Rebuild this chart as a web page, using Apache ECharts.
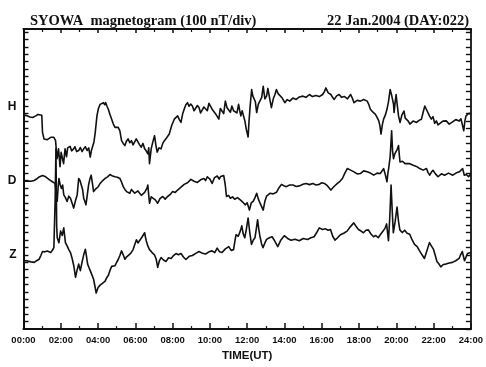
<!DOCTYPE html>
<html>
<head>
<meta charset="utf-8">
<script src="https://cdn.jsdelivr.net/npm/echarts@6/dist/echarts.min.js"></script>
<style>
  html, body { margin: 0; padding: 0; background: #fff; }
  #chart { width: 486px; height: 367px; }
</style>
</head>
<body>
<div id="chart"></div>
<script>
// Syowa station magnetogram, 22 Jan 2004.
// Each trace: [time (hours UT), deviation from the trace's own baseline (nT)].

const hSamples = [[0.00,-134],[0.12,-120],[0.22,-130],[0.35,-145],[0.49,-152],[0.58,-128],[0.66,-130],[0.78,-110],[0.88,-98],[0.98,-121],[1.02,-351],[1.10,-440],[1.18,-420],[1.28,-450],[1.37,-425],[1.46,-418],[1.55,-440],[1.63,-418],[1.72,-463],[1.80,-706],[1.88,-573],[1.96,-813],[2.02,-620],[2.08,-596],[2.15,-773],[2.23,-573],[2.31,-680],[2.37,-560],[2.43,-573],[2.50,-540],[2.58,-600],[2.69,-573],[2.76,-545],[2.85,-610],[2.96,-596],[3.05,-555],[3.14,-610],[3.23,-573],[3.32,-545],[3.41,-596],[3.50,-560],[3.58,-684],[3.64,-600],[3.70,-596],[3.78,-480],[3.85,-351],[3.94,-130],[4.02,-30],[4.11,25],[4.20,10],[4.29,48],[4.36,20],[4.41,48],[4.48,0],[4.55,-41],[4.64,-110],[4.73,-174],[4.82,-240],[4.91,-285],[5.00,-260],[5.08,-285],[5.17,-330],[5.26,-463],[5.35,-500],[5.44,-529],[5.52,-470],[5.61,-440],[5.70,-490],[5.79,-463],[5.88,-520],[5.97,-507],[6.05,-440],[6.14,-463],[6.23,-520],[6.32,-551],[6.41,-500],[6.50,-573],[6.58,-600],[6.67,-640],[6.72,-560],[6.76,-773],[6.85,-573],[6.94,-480],[7.03,-396],[7.10,-520],[7.17,-617],[7.27,-560],[7.38,-573],[7.47,-500],[7.56,-463],[7.69,-420],[7.82,-374],[7.95,-260],[8.09,-174],[8.18,-150],[8.27,-130],[8.36,-180],[8.45,-218],[8.54,-100],[8.62,-41],[8.71,20],[8.80,48],[8.88,0],[8.97,30],[9.06,3],[9.15,-60],[9.24,-85],[9.33,10],[9.42,-19],[9.50,-90],[9.59,-108],[9.68,-10],[9.77,3],[9.86,-60],[9.95,40],[10.04,48],[10.12,-40],[10.21,-19],[10.30,-100],[10.39,-85],[10.48,-174],[10.56,-30],[10.65,-41],[10.74,-100],[10.83,69],[10.92,-20],[11.01,-41],[11.10,-80],[11.18,3],[11.27,-60],[11.36,-41],[11.45,-90],[11.54,25],[11.60,-60],[11.66,-130],[11.73,-60],[11.80,-85],[11.88,-200],[11.95,-307],[12.05,-414],[12.10,-200],[12.16,3],[12.24,225],[12.30,140],[12.37,158],[12.44,60],[12.51,-85],[12.60,30],[12.69,48],[12.78,120],[12.86,269],[12.95,100],[13.04,136],[13.11,240],[13.18,225],[13.24,60],[13.30,-19],[13.40,100],[13.49,158],[13.57,225],[13.66,170],[13.75,181],[13.88,110],[14.02,48],[14.15,90],[14.28,69],[14.45,110],[14.63,92],[14.80,125],[14.99,136],[15.15,120],[15.34,158],[15.50,130],[15.69,145],[15.87,130],[16.05,158],[16.15,200],[16.22,247],[16.35,180],[16.49,158],[16.58,120],[16.67,92],[16.80,140],[16.93,158],[17.07,120],[17.21,132],[17.38,100],[17.55,158],[17.64,110],[17.73,48],[17.90,80],[18.08,69],[18.25,90],[18.44,69],[18.53,20],[18.61,-41],[18.75,-80],[18.88,-108],[18.97,-150],[19.06,-197],[19.12,-260],[19.18,-374],[19.25,-250],[19.32,-174],[19.41,-120],[19.50,-41],[19.58,60],[19.67,225],[19.74,160],[19.81,136],[19.85,30],[19.88,-85],[19.94,60],[19.99,158],[20.05,20],[20.12,-130],[20.20,-218],[20.30,-120],[20.41,-64],[20.48,-160],[20.56,-148],[20.64,-200],[20.73,-241],[20.90,-200],[21.09,-218],[21.22,-190],[21.35,-174],[21.44,-80],[21.53,3],[21.61,-40],[21.69,-15],[21.78,-130],[21.88,-174],[21.97,-140],[22.06,-230],[22.15,-197],[22.24,-250],[22.32,-263],[22.50,-200],[22.68,-197],[22.84,-240],[23.00,-214],[23.19,-180],[23.38,-197],[23.47,-170],[23.56,-152],[23.62,-330],[23.68,-200],[23.74,-130],[23.82,-150],[23.90,-94],[24.00,-108]];

const dSamples = [[0.00,-12],[0.12,-5],[0.22,-12],[0.40,-10],[0.57,1],[0.70,20],[0.84,48],[0.93,40],[1.02,68],[1.10,72],[1.19,50],[1.28,28],[1.40,10],[1.55,-16],[1.69,-39],[1.75,-150],[1.81,-278],[1.86,-80],[1.90,28],[1.97,-60],[2.04,-105],[2.10,-60],[2.16,-194],[2.25,-230],[2.34,-282],[2.43,-210],[2.52,-238],[2.60,-300],[2.69,-371],[2.78,-280],[2.88,-194],[2.96,28],[3.03,0],[3.10,-16],[3.17,-120],[3.23,-238],[3.29,-280],[3.35,-327],[3.42,-200],[3.49,-61],[3.56,20],[3.63,72],[3.70,-40],[3.76,-149],[3.85,-120],[3.94,-105],[4.02,-80],[4.11,-39],[4.25,0],[4.38,28],[4.51,50],[4.64,81],[4.78,60],[4.91,51],[5.04,45],[5.17,28],[5.26,-20],[5.35,-82],[5.44,-120],[5.53,-149],[5.61,-130],[5.70,-172],[5.79,-120],[5.88,-105],[5.97,-170],[6.06,-194],[6.14,-140],[6.23,-128],[6.32,-200],[6.41,-215],[6.50,-160],[6.59,-149],[6.63,-100],[6.67,-61],[6.72,-200],[6.76,-305],[6.85,-220],[6.94,-194],[7.07,-260],[7.20,-305],[7.33,-240],[7.47,-215],[7.60,-250],[7.73,-215],[7.86,-190],[8.00,-149],[8.14,-160],[8.27,-128],[8.45,-90],[8.62,-52],[8.80,-30],[8.98,15],[9.15,-10],[9.33,-25],[9.50,10],[9.68,28],[9.77,0],[9.86,51],[10.00,20],[10.12,-39],[10.25,40],[10.39,61],[10.50,20],[10.58,55],[10.66,80],[10.74,68],[10.82,-50],[10.89,-215],[11.00,-200],[11.10,-238],[11.22,-220],[11.33,-251],[11.48,-230],[11.63,-261],[11.76,-290],[11.89,-327],[12.00,-300],[12.12,-398],[12.22,-300],[12.33,-278],[12.42,-230],[12.51,-172],[12.60,-250],[12.69,-305],[12.78,-330],[12.86,-398],[12.95,-280],[13.04,-211],[13.13,-190],[13.22,-172],[13.40,-180],[13.57,-158],[13.70,-100],[13.84,-52],[13.97,-70],[14.10,-82],[14.28,-60],[14.46,-61],[14.63,-80],[14.81,-72],[14.99,-50],[15.16,-39],[15.34,-55],[15.52,-39],[15.70,-60],[15.87,-52],[16.00,-30],[16.14,-39],[16.30,-70],[16.49,-128],[16.66,-80],[16.84,-39],[16.98,-10],[17.11,28],[17.24,100],[17.37,161],[17.55,140],[17.73,117],[17.90,90],[18.07,94],[18.25,130],[18.44,117],[18.61,100],[18.79,72],[18.97,100],[19.14,94],[19.23,120],[19.32,161],[19.41,80],[19.50,-16],[19.55,100],[19.59,161],[19.67,317],[19.75,670],[19.80,400],[19.85,294],[19.92,360],[19.99,338],[20.05,420],[20.12,471],[20.16,350],[20.20,250],[20.33,260],[20.47,227],[20.69,230],[20.91,205],[21.08,190],[21.26,161],[21.44,140],[21.62,161],[21.70,110],[21.79,72],[21.88,110],[21.97,138],[22.10,90],[22.24,51],[22.42,90],[22.59,72],[22.80,100],[23.03,72],[23.20,100],[23.38,117],[23.47,140],[23.56,161],[23.65,72],[23.76,80],[23.88,51],[24.00,94]];

const zSamples = [[0.00,-76],[0.22,-82],[0.40,-95],[0.57,-102],[0.70,-80],[0.84,-59],[0.93,-10],[1.02,44],[1.15,40],[1.28,51],[1.37,30],[1.46,31],[1.55,60],[1.63,97],[1.70,762],[1.74,1427],[1.78,390],[1.81,230],[1.90,164],[1.99,319],[2.08,260],[2.16,363],[2.25,164],[2.34,120],[2.43,70],[2.52,30],[2.61,-49],[2.70,-150],[2.79,-302],[2.88,-200],[2.96,-125],[3.05,-213],[3.14,-100],[3.23,0],[3.32,74],[3.38,-20],[3.44,-125],[3.51,-170],[3.58,-213],[3.67,-270],[3.76,-329],[3.83,-420],[3.90,-515],[4.00,-440],[4.11,-408],[4.25,-380],[4.38,-355],[4.46,-310],[4.55,-279],[4.64,-210],[4.73,-156],[4.82,-170],[4.91,-146],[5.00,-100],[5.08,-63],[5.17,-10],[5.26,53],[5.35,0],[5.44,-59],[5.52,-30],[5.61,-36],[5.75,20],[5.88,70],[5.97,140],[6.06,203],[6.14,160],[6.23,177],[6.36,240],[6.50,297],[6.55,230],[6.59,186],[6.67,120],[6.76,70],[6.90,30],[7.03,-3],[7.12,-60],[7.20,-169],[7.29,-80],[7.38,-36],[7.51,-70],[7.65,-89],[7.78,-40],[7.92,-49],[8.05,-10],[8.18,17],[8.31,0],[8.45,17],[8.58,-30],[8.71,-63],[8.89,-20],[9.06,-9],[9.24,20],[9.42,44],[9.60,20],[9.77,11],[9.95,40],[10.12,53],[10.26,30],[10.39,90],[10.52,40],[10.65,31],[10.83,80],[11.01,110],[11.14,60],[11.27,70],[11.34,180],[11.40,270],[11.52,250],[11.63,319],[11.71,390],[11.79,280],[11.87,230],[11.96,350],[12.05,496],[12.14,300],[12.23,141],[12.33,200],[12.42,230],[12.49,350],[12.56,473],[12.62,350],[12.68,257],[12.77,150],[12.85,97],[12.95,160],[13.04,207],[13.19,230],[13.34,243],[13.49,180],[13.64,110],[13.81,200],[13.99,257],[14.17,220],[14.35,197],[14.57,210],[14.79,190],[15.01,220],[15.24,207],[15.42,230],[15.59,243],[15.73,300],[15.87,363],[16.04,340],[16.21,350],[16.34,330],[16.47,340],[16.59,250],[16.71,197],[16.85,230],[17.00,270],[17.18,290],[17.36,319],[17.54,380],[17.72,430],[17.85,380],[17.97,340],[18.11,320],[18.24,297],[18.37,330],[18.50,336],[18.64,280],[18.78,243],[18.90,260],[19.03,230],[19.17,280],[19.30,323],[19.40,360],[19.48,416],[19.53,300],[19.58,190],[19.65,500],[19.72,939],[19.78,600],[19.84,297],[19.94,450],[20.04,642],[20.12,450],[20.19,336],[20.32,300],[20.45,330],[20.58,290],[20.72,277],[20.85,200],[20.98,141],[21.12,110],[21.25,53],[21.38,0],[21.51,-49],[21.65,60],[21.78,164],[21.88,120],[21.99,77],[22.08,0],[22.18,-89],[22.28,-120],[22.39,-162],[22.52,-130],[22.66,-125],[22.84,-110],[23.01,-102],[23.19,-80],[23.37,-49],[23.45,0],[23.54,44],[23.66,-80],[23.82,17],[24.00,31]];

const components = ['H', 'D', 'Z'];
const baselines = [3000, 2000, 1000];   // nT position of each trace's zero line on the stacked axis
const hourLabels = ['00:00','02:00','04:00','06:00','08:00','10:00','12:00','14:00','16:00','18:00','20:00','22:00','24:00'];

const traces = [hSamples, dSamples, zSamples];
const ink = '#111';

const chart = echarts.init(document.getElementById('chart'), null, { renderer: 'canvas' });

const series = traces.map((samples, i) => ({
  name: components[i],
  type: 'line',
  xAxisIndex: 0,
  yAxisIndex: 0,
  showSymbol: false,
  silent: true,
  animation: false,
  lineStyle: { color: ink, width: 1.6, join: 'round' },
  data: samples.map(([h, dev]) => [h, baselines[i] + dev])
}));

const tickLabel = baselines.reduce((m, b, i) => { m[b] = components[i]; return m; }, {});

chart.setOption({
  animation: false,
  backgroundColor: '#fff',
  title: [
    {
      text: 'SYOWA  magnetogram (100 nT/div)',
      left: 25, top: 9,
      textStyle: { fontFamily: 'Liberation Serif', fontWeight: 'bold', fontSize: 14.5, color: ink }
    },
    {
      text: '22 Jan.2004 (DAY:022)',
      right: 12, top: 9,
      textStyle: { fontFamily: 'Liberation Serif', fontWeight: 'bold', fontSize: 14.5, color: ink }
    }
  ],
  grid: { left: 23.5, right: 11, top: 29, bottom: 34.5, containLabel: false },
  xAxis: [
    {
      type: 'value', position: 'bottom', min: 0, max: 24, interval: 2,
      name: 'TIME(UT)', nameLocation: 'middle', nameGap: 20,
      nameTextStyle: { fontFamily: 'Liberation Sans', fontWeight: 'bold', fontSize: 11.5, color: ink },
      axisLine: { show: true, onZero: false, lineStyle: { color: ink, width: 2.2 } },
      axisTick: { show: true, inside: true, length: 6, lineStyle: { color: ink, width: 1.5 } },
      minorTick: { show: true, splitNumber: 2, length: 3, lineStyle: { color: ink, width: 1.2 } },
      splitLine: { show: false },
      axisLabel: {
        margin: 6,
        fontFamily: 'Liberation Sans',
        fontWeight: 'bold', fontSize: 9.5, color: ink,
        formatter: v => hourLabels[Math.round(v / 2)]
      }
    },
    {
      type: 'value', position: 'top', min: 0, max: 24, interval: 2,
      axisLine: { show: true, onZero: false, lineStyle: { color: ink, width: 2.2 } },
      axisTick: { show: true, inside: true, length: 4, lineStyle: { color: ink, width: 1.5 } },
      minorTick: { show: true, splitNumber: 2, length: 3, lineStyle: { color: ink, width: 1.2 } },
      splitLine: { show: false },
      axisLabel: { show: false }
    }
  ],
  yAxis: [
    {
      type: 'value', position: 'left', min: 0, max: 4040, interval: 100,
      axisLine: { show: true, onZero: false, lineStyle: { color: ink, width: 2 } },
      axisTick: { show: true, inside: true, length: 5, lineStyle: { color: ink, width: 1.4 } },
      splitLine: { show: false },
      axisLabel: {
        margin: 7, fontFamily: 'Liberation Sans', fontWeight: 'bold', fontSize: 12, color: ink,
        showMinLabel: false, showMaxLabel: false,
        formatter: v => tickLabel[v] || ''
      }
    },
    {
      type: 'value', position: 'right', min: 0, max: 4040, interval: 100,
      axisLine: { show: true, onZero: false, lineStyle: { color: ink, width: 1.8 } },
      axisTick: { show: true, inside: true, length: 5, lineStyle: { color: ink, width: 1.4 } },
      splitLine: { show: false },
      axisLabel: { show: false }
    }
  ],
  series: series
});
</script>
</body>
</html>
